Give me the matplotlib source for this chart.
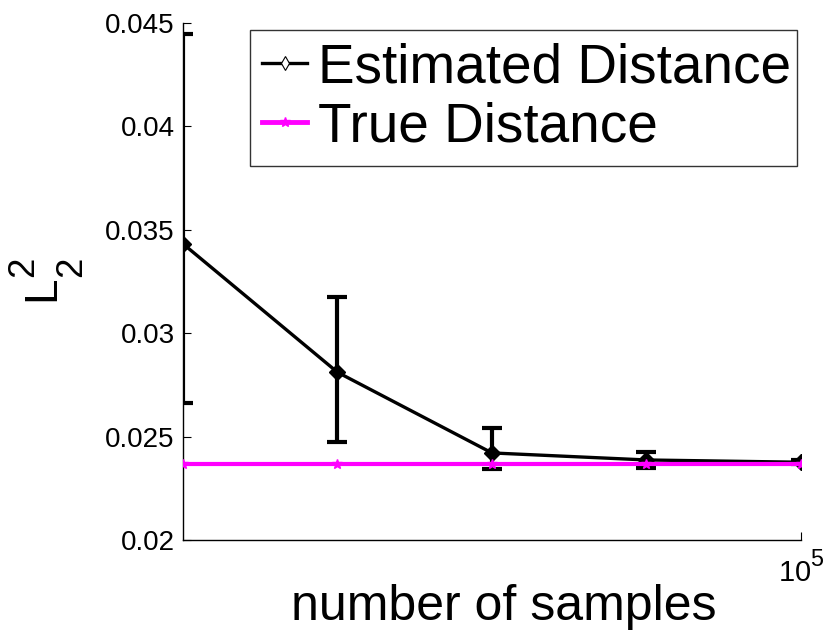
import matplotlib
matplotlib.use("Agg")
import matplotlib.pyplot as plt
import numpy as np
from matplotlib.lines import Line2D

# Data
samples = [6250, 12500, 25000, 50000, 100000]
est_mean = [0.03432, 0.02811, 0.02421, 0.02387, 0.02376]
est_low = [0.02662, 0.02474, 0.02343, 0.02348, 0.02366]
est_high = [0.04447, 0.03175, 0.02542, 0.02426, 0.02386]
true_dist = [0.02367, 0.02367, 0.02367, 0.02367, 0.02367]
yticks = [0.02, 0.025, 0.03, 0.035, 0.04, 0.045]
ytick_labels = ["0.02", "0.025", "0.03", "0.035", "0.04", "0.045"]
legend_labels = ['Estimated Distance', 'True Distance']

plt.rcParams['font.family'] = ['Liberation Sans', 'DejaVu Sans']
plt.rcParams['mathtext.fontset'] = 'custom'
plt.rcParams['mathtext.rm'] = 'Liberation Sans'
plt.rcParams['mathtext.it'] = 'Liberation Sans'
plt.rcParams['mathtext.sf'] = 'Liberation Sans'

# MATLAB-like larger / more offset sub- and superscripts
try:
    import matplotlib._mathtext as _mt
    _mt.FontConstantsBase.sup1 = 0.95
    _mt.FontConstantsBase.sub2 = 1.0
    _mt.SHRINK_FACTOR = 0.8
except Exception:
    pass

fig = plt.figure(figsize=(8.3, 6.38), dpi=100)
ax = fig.add_axes([0.2205, 0.1536, 0.7445, 0.8104])

em = np.array(est_mean)
yerr = [em - np.array(est_low), np.array(est_high) - em]
ax.errorbar(samples, est_mean, yerr=yerr, color='black', lw=2.4,
            elinewidth=3, capsize=7, capthick=3,
            marker='D', markersize=8, zorder=2)
ax.plot(samples, true_dist, color='#ff00ff', lw=3, marker='*',
        markersize=7, zorder=3)

ax.set_xscale('log')
ax.set_xlim(samples[0], samples[-1])
ax.set_ylim(0.02, 0.045)
ax.set_xticks([1e5])
ax.set_xticklabels([r'$10^5$'])
ax.xaxis.set_minor_locator(matplotlib.ticker.NullLocator())
ax.set_yticks(yticks)
ax.set_yticklabels(ytick_labels)

for s in ['top', 'right']:
    ax.spines[s].set_visible(False)
ax.spines['left'].set_linewidth(1.0)
ax.spines['bottom'].set_linewidth(1.0)
ax.tick_params(axis='both', direction='in', length=6, labelsize=20, width=0.8)
ax.tick_params(axis='x', pad=8, labelsize=21)
ax.tick_params(axis='y', pad=6)

ax.set_xlabel('number of samples', fontsize=36)
ax.xaxis.set_label_coords(0.519, -0.086)
ax.set_ylabel(r'$\mathrm{L}_2^2$', fontsize=33, labelpad=13)

h1 = Line2D([], [], color='black', lw=2.4, marker='d', markersize=7,
            markerfacecolor='white', markeredgecolor='black', markeredgewidth=0.8)
h2 = Line2D([], [], color='#ff00ff', lw=3.5, marker='*', markersize=7)
leg = ax.legend([h1, h2], legend_labels,
                loc='upper left', bbox_to_anchor=(0.1084, 0.7253, 0.885, 0.2612),
                mode='expand',
                fontsize=39.5, handlelength=0.82, handletextpad=0.2,
                borderpad=0.22, labelspacing=0.14, borderaxespad=0.0,
                fancybox=False, framealpha=1, edgecolor='#333333')
leg.get_frame().set_linewidth(1.0)

fig.savefig('out.png', dpi=100)
